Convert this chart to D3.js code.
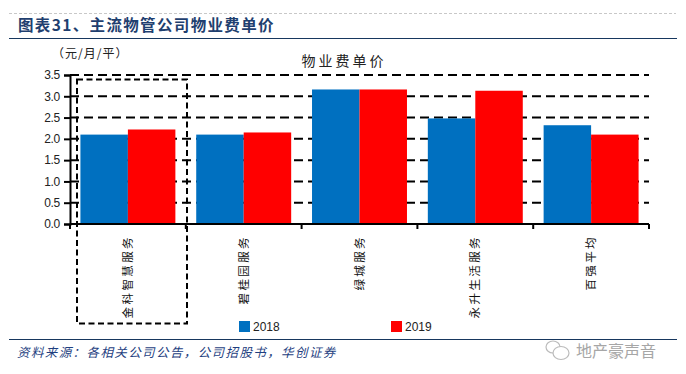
<!DOCTYPE html>
<html>
<head>
<meta charset="utf-8">
<script src="https://cdn.jsdelivr.net/npm/d3@7"></script>
<style>
  html, body { margin: 0; padding: 0; background: #fff; }
  svg { display: block; }
  text { font-family: "Noto Sans CJK SC", sans-serif; }
  .latin { font-family: "Liberation Sans", Arial, sans-serif; }
</style>
</head>
<body>
<div id="chart"></div>
<script>
const categories = ["金科智慧服务", "碧桂园服务", "绿城服务", "永升生活服务", "百强平均"];
const years = ["2018", "2019"];
const values2018 = [2.10, 2.10, 3.16, 2.48, 2.32];
const values2019 = [2.22, 2.15, 3.16, 3.13, 2.10];
const yTicks = [0, 0.5, 1, 1.5, 2, 2.5, 3, 3.5];
const colors = ["#0070c0", "#ff0000"];

const width = 686, height = 374;
const margin = {top: 75, right: 37, bottom: 150, left: 70};

const svg = d3.select("#chart").append("svg")
    .attr("width", width)
    .attr("height", height);

// page furniture
svg.append("line").attr("x1", 9).attr("x2", 676).attr("y1", 13.5).attr("y2", 13.5)
    .attr("stroke", "#c8c8c8").attr("stroke-dasharray", "3,2");
svg.append("line").attr("x1", 9).attr("x2", 677).attr("y1", 38.5).attr("y2", 38.5)
    .attr("stroke", "#17375e").attr("stroke-width", 1.2);
svg.append("line").attr("x1", 9).attr("x2", 677).attr("y1", 339.5).attr("y2", 339.5)
    .attr("stroke", "#17375e").attr("stroke-width", 1.2);
svg.append("text").attr("x", 18).attr("y", 31)
    .attr("font-size", 15.5).attr("font-weight", 700).attr("fill", "#1f3f6f")
    .style("letter-spacing", "1.35px")
    .text("图表31、主流物管公司物业费单价");
svg.append("text").attr("x", 17).attr("y", 357)
    .attr("font-size", 12.5).attr("font-style", "italic").attr("fill", "#1f3f7f")
    .style("letter-spacing", "1.4px")
    .text("资料来源：各相关公司公告，公司招股书，华创证券");

// chart titles
svg.append("text").attr("x", 52).attr("y", 58)
    .attr("font-size", 12).attr("fill", "#222")
    .style("letter-spacing", "1px")
    .text("（元/月/平）");
svg.append("text").attr("x", 344).attr("y", 66)
    .attr("text-anchor", "middle").attr("font-size", 14).attr("fill", "#222")
    .style("letter-spacing", "3px")
    .text("物业费单价");

const g = svg.append("g")
    .attr("transform", `translate(${margin.left},${margin.top})`);
const innerW = width - margin.left - margin.right;
const innerH = height - margin.top - margin.bottom;

const x = d3.scaleBand().domain(categories).range([0, innerW]).paddingInner(0.18).paddingOuter(0.09);
const xFull = d3.scaleBand().domain(categories).range([0, innerW]);
const x1 = d3.scaleBand().domain(years).range([0, x.bandwidth()]);
const y = d3.scaleLinear().domain([0, 3.5]).range([innerH, 0]);

// dashed grid sits behind the bars
g.append("g").selectAll("line")
    .data(yTicks.filter(d => d > 0))
    .enter().append("line")
    .attr("x1", 0).attr("x2", innerW)
    .attr("y1", d => y(d)).attr("y2", d => y(d))
    .attr("stroke", "#000").attr("stroke-width", 2).attr("stroke-dasharray", "9,5");

const series = [values2018, values2019];
series.forEach((vals, s) => {
    g.append("g").selectAll("rect")
        .data(vals)
        .enter().append("rect")
        .attr("x", (d, i) => x(categories[i]) + x1(years[s]))
        .attr("y", d => y(d))
        .attr("width", x1.bandwidth())
        .attr("height", d => y(0) - y(d))
        .attr("fill", colors[s]);
});

// axes
const yAxis = d3.axisLeft(y).tickValues(yTicks).tickFormat(d3.format(".1f")).tickSize(6).tickPadding(4);
const yG = g.append("g").call(yAxis);
yG.selectAll("line").attr("stroke", "#000").attr("stroke-width", 2);
yG.select(".domain").attr("stroke", "#000").attr("stroke-width", 2);
yG.selectAll("text").attr("class", "latin").attr("font-size", 12).attr("fill", "#222")
    .style("letter-spacing", "-0.3px");

// ticks sit on band edges, so the axis is drawn on the edge positions
const edges = categories.map(c => xFull(c)).concat([innerW]);
const xLine = g.append("g").attr("transform", `translate(0,${innerH})`);
xLine.append("line").attr("x1", 0).attr("x2", innerW).attr("stroke", "#000").attr("stroke-width", 2);
xLine.selectAll(".edge").data(edges).enter().append("line")
    .attr("class", "edge")
    .attr("x1", d => d).attr("x2", d => d)
    .attr("y1", 0).attr("y2", 5)
    .attr("stroke", "#000").attr("stroke-width", 2);

// rotated category labels
xLine.selectAll(".cat").data(categories).enter().append("text")
    .attr("class", "cat")
    .attr("transform", d => `translate(${xFull(d) + xFull.bandwidth() / 2 + 4},11) rotate(-90)`)
    .attr("text-anchor", "end")
    .attr("font-size", 11.5).attr("fill", "#111")
    .style("letter-spacing", "2.4px")
    .text(d => d);

// highlight box round the first category
svg.append("rect").attr("x", 77).attr("y", 79.5).attr("width", 110).attr("height", 244)
    .attr("fill", "none").attr("stroke", "#000").attr("stroke-width", 2).attr("stroke-dasharray", "6,3.5");

// legend
const legendX = [239, 391];
years.forEach((yr, i) => {
    svg.append("rect").attr("x", legendX[i]).attr("y", 321).attr("width", 11).attr("height", 11)
        .attr("fill", colors[i]);
    svg.append("text").attr("class", "latin").attr("x", legendX[i] + 14).attr("y", 331)
        .attr("font-size", 12).attr("fill", "#222").text(yr);
});

// watermark
const mark = svg.append("g").attr("fill", "#fff").attr("stroke", "#bbb").attr("stroke-width", 1.2);
mark.append("ellipse").attr("cx", 553).attr("cy", 347).attr("rx", 7).attr("ry", 6);
mark.append("ellipse").attr("cx", 561).attr("cy", 353).attr("rx", 8).attr("ry", 6.5);
svg.append("text").attr("x", 576).attr("y", 357)
    .attr("font-size", 16).attr("fill", "#a6a6a6").text("地产豪声音");
</script>
</body>
</html>
